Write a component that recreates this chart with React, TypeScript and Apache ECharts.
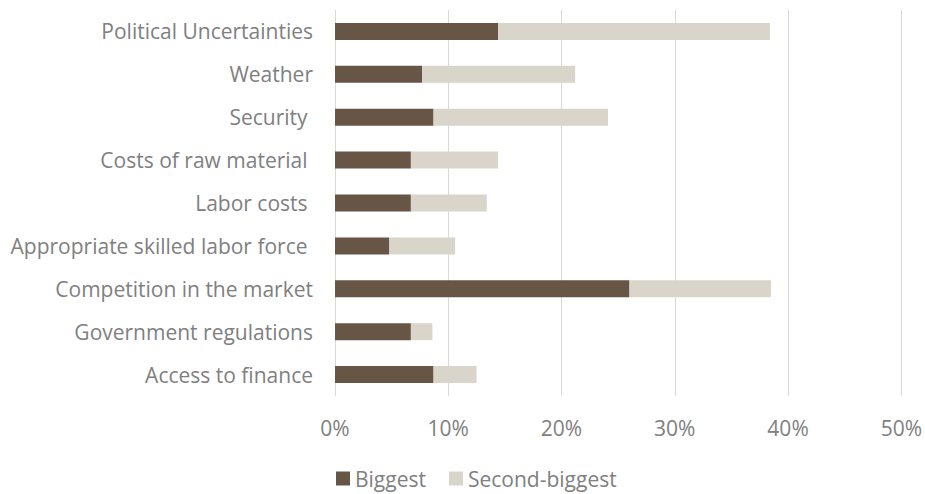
import React, { useEffect, useRef } from "react";
import * as echarts from "echarts";

const categories = [
  "Political Uncertainties",
  "Weather",
  "Security ",
  "Costs of raw material ",
  "Labor costs ",
  "Appropriate skilled labor force ",
  "Competition in the market",
  "Government regulations",
  "Access to finance",
];
const biggest = [14.4, 7.7, 8.7, 6.7, 6.7, 4.8, 26.0, 6.7, 8.7];
const secondBiggest = [24.0, 13.5, 15.4, 7.7, 6.7, 5.8, 12.5, 1.9, 3.8];
const xTicks = [0, 10, 20, 30, 40, 50];

export default function App() {
  const ref = useRef<HTMLDivElement>(null);
  useEffect(() => {
    if (!ref.current) return;
    const chart = echarts.init(ref.current, undefined, { renderer: "svg" });
    const font = "'Open Sans', sans-serif";
    chart.setOption({
      animation: false,
      textStyle: { fontFamily: font },
      grid: { left: 335, right: 22, top: 10, bottom: 98, containLabel: false },
      legend: {
        top: 463,
        left: 331,
        icon: "rect",
        itemWidth: 14,
        itemHeight: 14,
        itemGap: 23,
        textStyle: { color: "#808080", fontSize: 21, fontFamily: font },
        data: ["Biggest", "Second-biggest"],
      },
      xAxis: {
        type: "value",
        min: xTicks[0],
        max: xTicks[xTicks.length - 1],
        interval: 10,
        axisLine: { show: false },
        axisTick: { show: false },
        splitLine: { show: true, lineStyle: { color: "#d9d9d9", width: 1 } },
        axisLabel: {
          color: "#808080",
          fontSize: 21,
          fontFamily: font,
          margin: 21,
          formatter: (v: number) => `${v}%`,
        },
      },
      yAxis: {
        type: "category",
        inverse: true,
        data: categories,
        axisLine: { show: false },
        axisTick: { show: false },
        axisLabel: { color: "#808080", fontSize: 21, fontFamily: font, margin: 22 },
      },
      series: [
        {
          name: "Biggest",
          type: "bar",
          stack: "total",
          data: biggest,
          barWidth: 17,
          itemStyle: { color: "#675646" },
        },
        {
          name: "Second-biggest",
          type: "bar",
          stack: "total",
          data: secondBiggest,
          barWidth: 17,
          itemStyle: { color: "#d9d5cb" },
        },
      ],
    });
    return () => chart.dispose();
  }, []);
  return (
    <div
      ref={ref}
      style={{ position: "fixed", left: 0, top: 0, width: 925, height: 494, background: "#fff" }}
    />
  );
}
